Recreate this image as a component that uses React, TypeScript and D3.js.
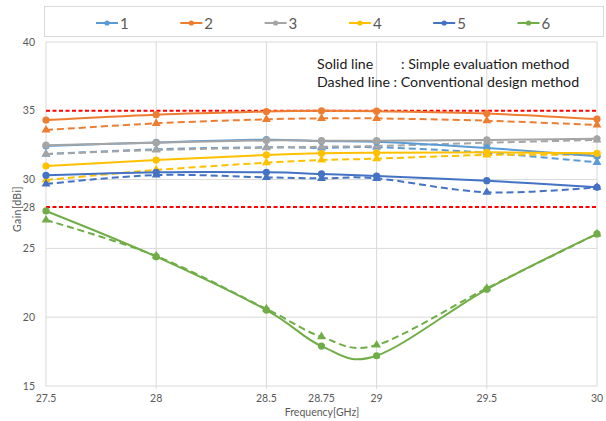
import React from "react";
import * as d3 from "d3";

const freqs = [27.5, 28, 28.5, 28.75, 29, 29.5, 30];
const seriesNames = ["1", "2", "3", "4", "5", "6"];
const seriesColors = ["#5B9BD5", "#ED7D31", "#A5A5A5", "#FFC000", "#4472C4", "#70AD47"];

const solid1 = [32.45, 32.7, 32.9, 32.8, 32.75, 32.3, 31.7];
const solid2 = [34.33, 34.72, 34.95, 35.0, 34.97, 34.8, 34.4];
const solid3 = [32.5, 32.68, 32.85, 32.83, 32.83, 32.88, 32.97];
const solid4 = [30.99, 31.42, 31.79, 31.91, 31.95, 31.98, 31.91];
const solid5 = [30.31, 30.53, 30.53, 30.41, 30.26, 29.92, 29.44];
const solid6 = [27.72, 24.4, 20.52, 17.9, 17.2, 22.03, 26.05];

const dashed1 = [31.85, 32.2, 32.35, 32.3, 32.35, 31.95, 31.25];
const dashed2 = [33.6, 34.09, 34.38, 34.45, 34.45, 34.28, 33.97];
const dashed3 = [31.86, 32.15, 32.32, 32.39, 32.44, 32.68, 32.88];
const dashed4 = [29.97, 30.7, 31.23, 31.42, 31.52, 31.79, 31.79];
const dashed5 = [29.68, 30.33, 30.16, 30.09, 30.09, 29.08, 29.44];
const dashed6 = [27.06, 24.45, 20.6, 18.58, 17.98, 22.1, 26.05];

const solidSeries = [solid1, solid2, solid3, solid4, solid5, solid6];
const dashedSeries = [dashed1, dashed2, dashed3, dashed4, dashed5, dashed6];

const xTicks = [27.5, 28, 28.5, 28.75, 29, 29.5, 30];
const xGrid = [28, 28.5, 29, 29.5];
const yTicks = [15, 20, 25, 28, 30, 35, 40];
const yGrid = [20, 25, 30];
const refLines = [35, 28];

const W = 606;
const H = 421;
const FONT = "Lato, 'Open Sans', sans-serif";

export default function App() {
  const x = d3.scaleLinear().domain([27.5, 30]).range([46, 597]);
  const y = d3.scaleLinear().domain([15, 40]).range([386, 42]);
  const line = d3
    .line<[number, number]>()
    .x((d) => x(d[0]))
    .y((d) => y(d[1]))
    .curve(d3.curveCardinal.tension(0));
  const tri = d3.symbol().type(d3.symbolTriangle).size(34)();

  const pts = (vals: number[]) => freqs.map((f, i) => [f, vals[i]] as [number, number]);

  return (
    <svg
      width={W}
      height={H}
      style={{ position: "absolute", left: 0, top: 0, background: "#fff" }}
      fontFamily={FONT}
    >
      {/* legend box */}
      <rect x={44.5} y={6.5} width={559} height={30} fill="#fff" stroke="#d9d9d9" />
      {seriesNames.map((n, i) => {
        const lx = 96 + i * 84.3;
        return (
          <g key={n}>
            <line x1={lx} x2={lx + 22} y1={23} y2={23} stroke={seriesColors[i]} strokeWidth={2} />
            <circle cx={lx + 11} cy={23} r={2.6} fill={seriesColors[i]} />
            <text x={lx + 24} y={28.5} fontSize={15} fill="#595959">
              {n}
            </text>
          </g>
        );
      })}

      {/* plot area */}
      {xGrid.map((v) => (
        <line key={"xg" + v} x1={x(v)} x2={x(v)} y1={42} y2={389} stroke="#d9d9d9" strokeWidth={1} />
      ))}
      {yGrid.map((v) => (
        <line key={"yg" + v} x1={46} x2={597} y1={y(v)} y2={y(v)} stroke="#d9d9d9" strokeWidth={1} />
      ))}
      <rect x={46} y={42} width={551} height={344} fill="none" stroke="#d9d9d9" strokeWidth={1} />

      {refLines.map((v) => (
        <line
          key={"ref" + v}
          x1={46}
          x2={597}
          y1={y(v)}
          y2={y(v)}
          stroke="#FF0000"
          strokeWidth={2}
          strokeDasharray="4,2.5"
        />
      ))}

      {dashedSeries.map((vals, i) => (
        <g key={"d" + i}>
          <path
            d={line(pts(vals)) || ""}
            fill="none"
            stroke={seriesColors[i]}
            strokeWidth={2}
            strokeDasharray="7,4"
          />
          {freqs.map((f, j) => (
            <path
              key={j}
              d={tri || ""}
              transform={`translate(${x(f)},${y(vals[j])})`}
              fill={seriesColors[i]}
            />
          ))}
        </g>
      ))}
      {solidSeries.map((vals, i) => (
        <g key={"s" + i}>
          <path d={line(pts(vals)) || ""} fill="none" stroke={seriesColors[i]} strokeWidth={2} />
          {freqs.map((f, j) => (
            <circle key={j} cx={x(f)} cy={y(vals[j])} r={3.6} fill={seriesColors[i]} />
          ))}
        </g>
      ))}

      {/* axes labels */}
      {yTicks.map((v) => (
        <text key={"yt" + v} x={35} y={y(v) + 3.5} fontSize={10.5} fill="#595959" textAnchor="end">
          {v}
        </text>
      ))}
      {xTicks.map((v) => (
        <text key={"xt" + v} x={x(v)} y={402} fontSize={10.5} fill="#595959" textAnchor="middle">
          {v}
        </text>
      ))}
      <text x={322} y={416} fontSize={10.5} fill="#595959" textAnchor="middle">
        Frequency[GHz]
      </text>
      <text
        transform="translate(21,209) rotate(-90)"
        fontSize={10.5}
        fill="#595959"
        textAnchor="middle"
        letterSpacing={0.4}
      >
        Gain[dBi]
      </text>

      {/* annotation */}
      <text x={317} y={69} fontSize={14.2} fill="#1a1a1a">
        Solid line
      </text>
      <text x={401} y={69} fontSize={14.2} fill="#1a1a1a">
        : Simple evaluation method
      </text>
      <text x={317} y={87} fontSize={14.2} fill="#1a1a1a">
        Dashed line : Conventional design method
      </text>
    </svg>
  );
}
